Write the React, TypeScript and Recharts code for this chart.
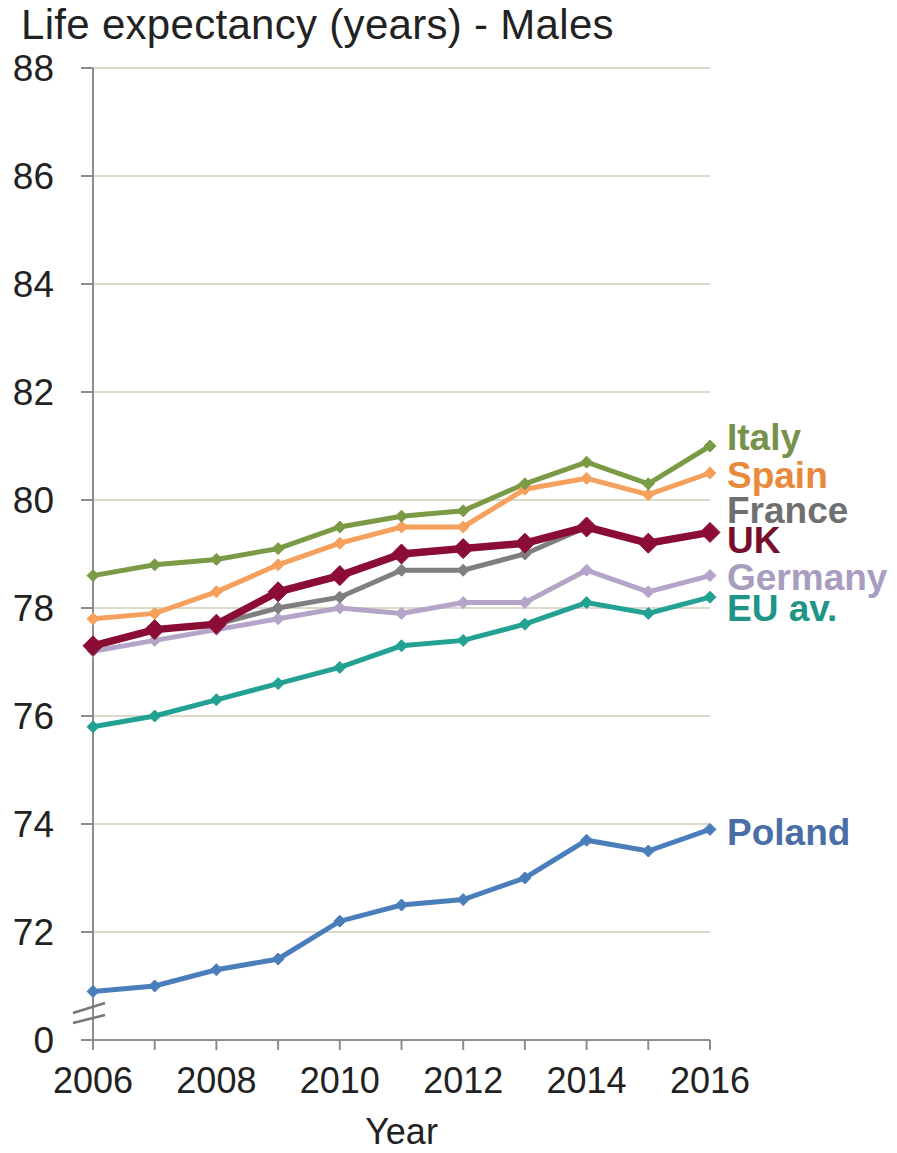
import React from "react";
import { LineChart, Line, XAxis, YAxis, CartesianGrid } from "recharts";

const years = [2006, 2007, 2008, 2009, 2010, 2011, 2012, 2013, 2014, 2015, 2016];
const italy = [78.6, 78.8, 78.9, 79.1, 79.5, 79.7, 79.8, 80.3, 80.7, 80.3, 81.0];
const spain = [77.8, 77.9, 78.3, 78.8, 79.2, 79.5, 79.5, 80.2, 80.4, 80.1, 80.5];
const france = [77.3, 77.6, 77.7, 78.0, 78.2, 78.7, 78.7, 79.0, 79.5, 79.2, 79.4];
const uk = [77.3, 77.6, 77.7, 78.3, 78.6, 79.0, 79.1, 79.2, 79.5, 79.2, 79.4];
const germany = [77.2, 77.4, 77.6, 77.8, 78.0, 77.9, 78.1, 78.1, 78.7, 78.3, 78.6];
const euAv = [75.8, 76.0, 76.3, 76.6, 76.9, 77.3, 77.4, 77.7, 78.1, 77.9, 78.2];
const poland = [70.9, 71.0, 71.3, 71.5, 72.2, 72.5, 72.6, 73.0, 73.7, 73.5, 73.9];

const yTicks = [70, 72, 74, 76, 78, 80, 82, 84, 86, 88];

const data = years.map((year, i) => ({
  year,
  italy: italy[i],
  spain: spain[i],
  france: france[i],
  uk: uk[i],
  germany: germany[i],
  eu: euAv[i],
  poland: poland[i]
}));

const FONT = "'Liberation Sans', Arial, sans-serif";
const TICK_SIZE = 12;
const TICK_MARGIN = 27;

// drawn bottom to top, UK last so it sits over France and Germany
const series = [
  { key: "poland", name: "Poland", color: "#4a7ebb", text: "#4a6fa8", width: 5, r: 6, dy: 3 },
  { key: "eu", name: "EU av.", color: "#23a193", text: "#1f9587", width: 5, r: 6, dy: 11 },
  { key: "germany", name: "Germany", color: "#b4a5c8", text: "#a89cbf", width: 5, r: 6, dy: 2 },
  { key: "france", name: "France", color: "#7f7f7f", text: "#707070", width: 5, r: 6, dy: -22 },
  { key: "spain", name: "Spain", color: "#f5a05c", text: "#e8893c", width: 5, r: 6, dy: 2 },
  { key: "italy", name: "Italy", color: "#7a9a45", text: "#76924a", width: 5, r: 6, dy: -9 },
  { key: "uk", name: "UK", color: "#8b0d35", text: "#7a0c2c", width: 7.5, r: 10, dy: 8 }
];

function diamond(color: string, r: number) {
  return (p: any) => {
    if (p.cx == null || p.cy == null) return <g key={p.key} />;
    const { cx, cy } = p;
    return (
      <polygon
        key={p.key}
        points={`${cx},${cy - r} ${cx + r},${cy} ${cx},${cy + r} ${cx - r},${cy}`}
        fill={color}
        stroke={color}
        strokeWidth={1}
      />
    );
  };
}

function endLabel(name: string, color: string, dy: number) {
  return (p: any) => {
    if (p.index !== years.length - 1) return <g key={`l-${name}-${p.index}`} />;
    return (
      <text
        key={`l-${name}`}
        x={p.x + 17}
        y={p.y + dy}
        dominantBaseline="central"
        fill={color}
        fontFamily={FONT}
        fontWeight="bold"
        fontSize={37}
      >
        {name}
      </text>
    );
  };
}

function YTick(props: any) {
  const { x, y, payload } = props;
  const axisX = x + TICK_SIZE + TICK_MARGIN;
  const isZero = payload.value === 70;
  return (
    <g>
      <text
        x={x}
        y={y}
        textAnchor="end"
        dominantBaseline="central"
        fill="#222"
        fontFamily={FONT}
        fontSize={37}
      >
        {isZero ? "0" : payload.value}
      </text>
      {isZero && (
        <g stroke="#777" strokeWidth={2.5}>
          <line x1={axisX - 20} y1={y - 17} x2={axisX + 12} y2={y - 25} />
          <line x1={axisX - 20} y1={y - 27} x2={axisX + 12} y2={y - 37} />
        </g>
      )}
    </g>
  );
}

function XTick(props: any) {
  const { x, y, payload } = props;
  if (payload.value % 2 !== 0) return <g />;
  return (
    <text
      x={x}
      y={y + 15}
      textAnchor="middle"
      dominantBaseline="hanging"
      fill="#222"
      fontFamily={FONT}
      fontSize={36}
    >
      {payload.value}
    </text>
  );
}

export default function App() {
  return (
    <div style={{ position: "relative", width: 889, height: 1145, background: "#fff" }}>
      <div
        style={{
          position: "absolute",
          left: 13,
          top: -6,
          fontFamily: FONT,
          fontSize: 42,
          letterSpacing: 0.3,
          lineHeight: "46px",
          color: "#222",
          whiteSpace: "nowrap"
        }}
      >
        Life expectancy (years) - Males
      </div>
      <LineChart
        width={889}
        height={1145}
        data={data}
        margin={{ top: 60, right: 187, bottom: 13, left: 0 }}
      >
        <CartesianGrid vertical={false} stroke="#ddd9c8" strokeWidth={2} />
        <XAxis
          dataKey="year"
          type="number"
          domain={[2006, 2016]}
          ticks={years}
          interval={0}
          height={100}
          tickSize={10}
          tick={<XTick />}
          axisLine={{ stroke: "#8c8c8c", strokeWidth: 2 }}
          tickLine={{ stroke: "#8c8c8c", strokeWidth: 2 }}
          label={{
            value: "Year",
            position: "insideBottom",
            offset: -4,
            fill: "#222",
            fontSize: 36,
            fontFamily: FONT
          }}
        />
        <YAxis
          type="number"
          domain={[70, 88]}
          ticks={yTicks}
          interval={0}
          width={85}
          tickSize={TICK_SIZE}
          tickMargin={TICK_MARGIN}
          tick={<YTick />}
          axisLine={{ stroke: "#8c8c8c", strokeWidth: 2 }}
          tickLine={{ stroke: "#8c8c8c", strokeWidth: 2 }}
        />
        {series.map((s) => (
          <Line
            key={s.key}
            dataKey={s.key}
            name={s.name}
            type="linear"
            stroke={s.color}
            strokeWidth={s.width}
            dot={diamond(s.color, s.r)}
            activeDot={false}
            label={endLabel(s.name, s.text, s.dy)}
            isAnimationActive={false}
          />
        ))}
      </LineChart>
    </div>
  );
}
